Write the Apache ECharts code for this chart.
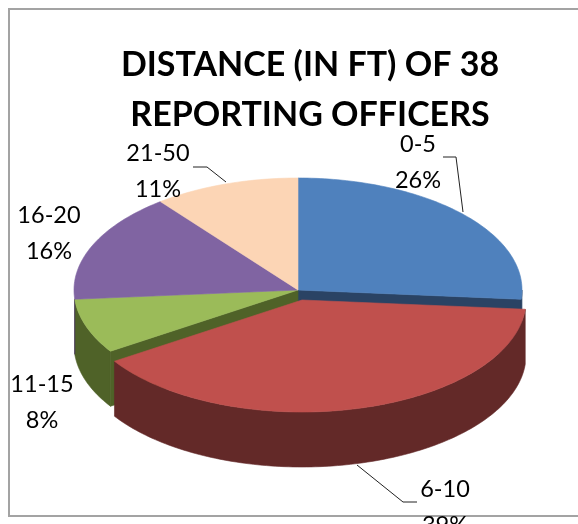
<!DOCTYPE html>
<html><head><meta charset="utf-8">
<style>html,body{margin:0;padding:0;background:#fff}#c{width:578px;height:524px}</style>
<script src="https://cdn.jsdelivr.net/npm/echarts@6/dist/echarts.min.js"></script>
</head><body><div id="c"></div>
<script>
const categories = ['0-5', '6-10', '11-15', '16-20', '21-50'];
const officerCounts = [10, 15, 3, 6, 4];
const chartTitle = 'DISTANCE (IN FT) OF 38\nREPORTING OFFICERS';

const topColors = ['#4F81BD', '#C0504D', '#9BBB59', '#8064A2', '#FCD5B5'];
const sideColors = ['#2A4364', '#632928', '#4F6228', '#4D3B62', '#97806C'];
const explode = [[0, 0], [4, 10], [0, 0], [0, 0], [0, 0]];
const labelAnchors = [[418, 162], [445, 507], [42, 402], [49, 233], [158, 171]];
const leaders = [
  [[443, 157], [456, 157], [463, 212]],
  [[357, 465], [403, 502], [417, 502]],
  null, null,
  [[193, 167], [207, 167], [226, 182]]
];
const CX = 298, CY = 290, RX = 224, RY = 112, DEPTH = 55;
const explodedIndex = 1;
const total = officerCounts.reduce((a, b) => a + b, 0);
const starts = [];
officerCounts.reduce((acc, v, i) => { starts[i] = acc; return acc + v; }, 0);
const toAngle = v => v / total * Math.PI * 2;
const pt = (a, o, d) => [CX + o[0] + RX * Math.sin(a), CY + o[1] - RY * Math.cos(a) + (d || 0)];
const arc = (a0, a1, o, d) => {
  const n = Math.max(2, Math.ceil((a1 - a0) / 0.02));
  const pts = [];
  for (let k = 0; k <= n; k++) pts.push(pt(a0 + (a1 - a0) * k / n, o, d));
  return pts;
};
const rank = i => (i === explodedIndex ? 100 : 10);

function renderSlice(params, api) {
  const i = api.value(0);
  const a0 = toAngle(starts[i]), a1 = toAngle(starts[i] + officerCounts[i]);
  const o = explode[i];
  const children = [];
  const poly = (points, fill, z2) => children.push({
    type: 'polygon', shape: { points }, z2,
    style: { fill, stroke: fill, lineWidth: 0.6 }
  });
  const c = [CX + o[0], CY + o[1]];
  // cut faces show only where a neighbour has been pulled away
  const cuts = [];
  if (i === explodedIndex - 1) cuts.push(a1);
  if (i === explodedIndex + 1) cuts.push(a0);
  cuts.forEach(a => {
    const e = pt(a, o, 0);
    poly([c, e, [e[0], e[1] + DEPTH], [c[0], c[1] + DEPTH]], sideColors[i], rank(i));
  });
  const w0 = Math.max(a0, Math.PI / 2), w1 = Math.min(a1, Math.PI * 1.475);
  if (w1 > w0) {
    poly(arc(w0, w1, o, 0).concat(arc(w0, w1, o, DEPTH).reverse()), sideColors[i], rank(i) + 1);
  }
  poly([c].concat(arc(a0, a1, o, 0)), topColors[i], rank(i) + 2);
  if (leaders[i]) {
    children.push({
      type: 'polyline', shape: { points: leaders[i] }, z2: 200,
      style: { fill: null, stroke: '#222', lineWidth: 1 }
    });
  }
  const pct = Math.round(officerCounts[i] / total * 100) + '%';
  children.push({
    type: 'text', z2: 210, x: labelAnchors[i][0], y: labelAnchors[i][1],
    style: {
      text: categories[i] + '\n' + pct, align: 'center', verticalAlign: 'middle',
      font: '23.5px Lato', lineHeight: 36, fill: '#000'
    }
  });
  return { type: 'group', children };
}

const chart = echarts.init(document.getElementById('c'), null, { renderer: 'canvas' });
chart.setOption({
  animation: false,
  backgroundColor: '#fff',
  title: {
    text: chartTitle, left: 305, textAlign: 'center', top: 35,
    textStyle: { fontFamily: 'Lato', fontWeight: 'bold', fontSize: 34, lineHeight: 50, color: '#000' }
  },
  graphic: [{
    type: 'rect', z: -1, shape: { x: 9, y: 9, width: 600, height: 507 },
    style: { fill: 'none', stroke: '#A3A3A3', lineWidth: 2 }
  }],
  series: [{
    type: 'custom', coordinateSystem: 'none', renderItem: renderSlice,
    data: officerCounts.map((v, i) => [i, v]),
    encode: { value: 1 }
  }]
});
</script></body></html>
